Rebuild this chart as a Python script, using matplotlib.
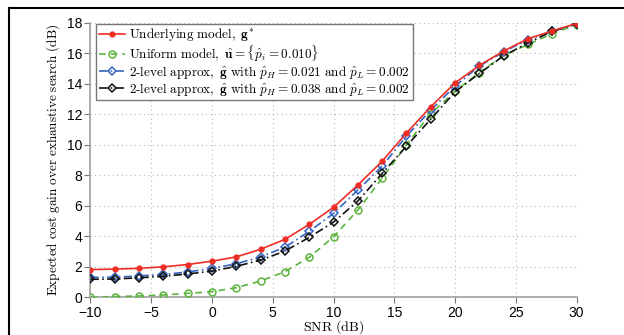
import matplotlib

matplotlib.use("Agg")
import matplotlib.pyplot as plt
from matplotlib.lines import Line2D

plt.rcParams["mathtext.fontset"] = "cm"
plt.rcParams["font.family"] = ["Liberation Sans", "DejaVu Sans"]

snr_db = [-10, -8, -6, -4, -2, 0, 2, 4, 6, 8, 10, 12, 14, 16, 18, 20, 22, 24, 26, 28, 30]

gain_underlying = [1.82, 1.85, 1.90, 2.00, 2.15, 2.37, 2.65, 3.15, 3.80, 4.78, 5.90,
                   7.36, 8.92, 10.77, 12.49, 14.06, 15.20, 16.15, 16.95, 17.47, 17.95]
gain_uniform = [0.00, 0.05, 0.09, 0.15, 0.26, 0.37, 0.63, 1.07, 1.68, 2.62, 3.97,
                5.72, 7.80, 10.00, 12.05, 13.50, 14.74, 15.86, 16.58, 17.28, 17.88]
gain_2lvl_a = [1.30, 1.32, 1.40, 1.50, 1.66, 1.90, 2.20, 2.65, 3.28, 4.32, 5.50,
               7.03, 8.60, 10.57, 12.27, 13.85, 15.16, 16.10, 16.90, 17.43, 17.95]
gain_2lvl_b = [1.18, 1.20, 1.28, 1.38, 1.53, 1.72, 2.03, 2.44, 3.03, 3.93, 4.93,
               6.31, 8.12, 9.91, 11.68, 13.47, 14.68, 15.83, 16.68, 17.44, 17.92]

labels = [
    r"$\mathrm{Underlying\ model,\ }\mathbf{g}^{*}$",
    r"$\mathrm{Uniform\ model,\ }\hat{\mathbf{u}} = \{\hat{p}_i = 0.010\}$",
    r"$\mathrm{2\text{-}level\ approx,\ }\hat{\mathbf{g}}\mathrm{\ with\ }\hat{p}_H = 0.021\mathrm{\ and\ }\hat{p}_L = 0.002$",
    r"$\mathrm{2\text{-}level\ approx,\ }\hat{\mathbf{g}}\mathrm{\ with\ }\hat{p}_H = 0.038\mathrm{\ and\ }\hat{p}_L = 0.002$",
]

RED = "#ee2e24"
GREEN = "#5bb53c"
BLUE = "#3464c0"
BLACK = "#111111"


def main():
    fig = plt.figure(figsize=(6.24, 3.35), dpi=100)
    ax = fig.add_axes([0.145, 0.1125, 0.779, 0.8195])

    ax.plot(snr_db, gain_underlying, color=RED, linestyle="-", linewidth=1.2,
            marker="o", markersize=3.5, label=labels[0], zorder=5)
    ax.plot(snr_db, gain_uniform, color=GREEN, linestyle=(0, (4, 3)), linewidth=1.2,
            marker="o", markersize=5, markerfacecolor="none", markeredgewidth=1.1,
            label=labels[1], zorder=3)
    ax.plot(snr_db, gain_2lvl_a, color=BLUE, linestyle=(0, (5, 2, 1, 2)), linewidth=1.2,
            marker="D", markersize=4.5, markerfacecolor="none", markeredgewidth=1.1,
            label=labels[2], zorder=4)
    ax.plot(snr_db, gain_2lvl_b, color=BLACK, linestyle=(0, (5, 2, 1, 2)), linewidth=1.2,
            marker="D", markersize=4.5, markerfacecolor="none", markeredgewidth=1.1,
            label=labels[3], zorder=4)

    ax.set_xlim(-10, 30)
    ax.set_ylim(0, 18)
    ax.set_xticks(range(-10, 31, 5))
    ax.set_yticks(range(0, 19, 2))
    ax.set_xticklabels(["\u221210", "\u22125", "0", "5", "10", "15", "20", "25", "30"])

    for side in ("top", "right"):
        ax.spines[side].set_visible(False)
    for side in ("left", "bottom"):
        ax.spines[side].set_color("#a0a0a0")
        ax.spines[side].set_linewidth(1.2)
    ax.tick_params(direction="out", length=4, width=0.8, color="#777777",
                   labelsize=10, pad=2)
    ax.grid(True, linestyle=(0, (1, 3)), color="#b8b8b8", linewidth=0.8)
    ax.set_axisbelow(True)

    ax.set_xlabel(r"$\mathrm{SNR\ (dB)}$", fontsize=10, labelpad=-1)
    ax.set_ylabel(r"$\mathrm{Expected\ cost\ gain\ over\ exhaustive\ search\ (dB)}$",
                  fontsize=9.5, labelpad=3)

    leg = ax.legend(loc="upper left", bbox_to_anchor=(0.012, 0.997), fontsize=9.5,
                    handlelength=2.0, handletextpad=0.3, borderpad=0.2,
                    labelspacing=0.0, borderaxespad=0.0, fancybox=False,
                    framealpha=1.0)
    leg.get_frame().set_edgecolor("#777777")
    leg.get_frame().set_linewidth(1.0)

    # cropped black frame from the source page
    fig.add_artist(Line2D([0.0144, 1.0], [0.976, 0.976], color="black", linewidth=1.5,
                          transform=fig.transFigure))
    fig.add_artist(Line2D([0.0144, 0.0144], [0.0, 0.976], color="black", linewidth=1.5,
                          transform=fig.transFigure))

    fig.savefig("out.png", dpi=100)
    plt.close(fig)


if __name__ == "__main__":
    main()
